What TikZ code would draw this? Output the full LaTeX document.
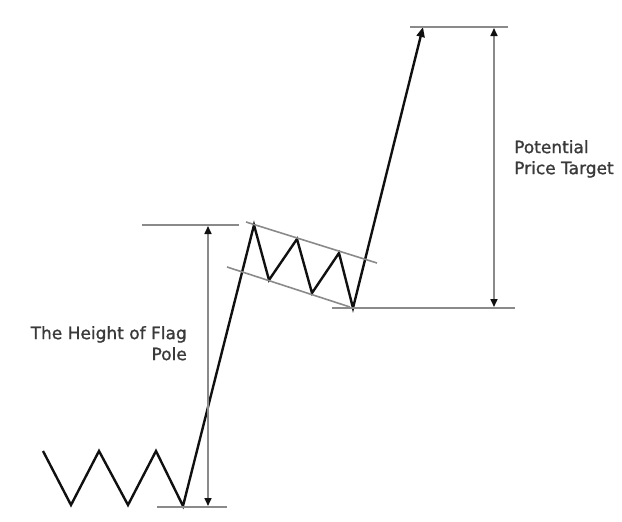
\documentclass[tikz,border=0pt]{standalone}
\usepackage{fontspec}
\setmainfont{DejaVu Sans}
\newfontfamily\labelfont[FakeBold=1.2]{DejaVu Sans}
\usetikzlibrary{arrows.meta}

\definecolor{ink}{HTML}{101010}
\definecolor{guide}{HTML}{8a8a8a}
\definecolor{label}{HTML}{3a3a3a}

\begin{document}
\begin{tikzpicture}[x=1pt, y=-1pt,
    price/.style={ink, line width=2.4pt, line join=miter},
    level/.style={guide, line width=1.8pt},
    measure/.style={guide, line width=1.6pt,
      {Triangle[length=8pt, width=7pt, color=ink]}-{Triangle[length=8pt, width=7pt, color=ink]}},
    note/.style={font=\labelfont\fontsize{17}{21}\selectfont, text=label, inner sep=0pt}]
    \useasboundingbox (0,0) rectangle (622,522);

    % price path
    \coordinate (z1) at (43,451);
    \coordinate (z2) at (71,505);
    \coordinate (z3) at (99,451);
    \coordinate (z4) at (128,505);
    \coordinate (z5) at (156,451);
    \coordinate (poleBase) at (183,506);
    \coordinate (poleTop) at (254,225);
    \coordinate (f1) at (269,280);
    \coordinate (f2) at (297,239);
    \coordinate (f3) at (312,293);
    \coordinate (f4) at (339,253);
    \coordinate (flagLow) at (353,308);
    \coordinate (target) at (423,27);
    \draw[price, -{Triangle[length=10pt, width=8pt]}]
      (z1) -- (z2) -- (z3) -- (z4) -- (z5) -- (poleBase) -- (poleTop)
      -- (f1) -- (f2) -- (f3) -- (f4) -- (flagLow) -- (target);

    % flag channel
    \coordinate (chA) at (246,222);
    \coordinate (chB) at (377,263);
    \coordinate (chC) at (227,267);
    \coordinate (chD) at (350,307);
    \draw[level, line width=1.6pt] (chA) -- (chB);
    \draw[level, line width=1.6pt] (chC) -- (chD);

    % levels
    \coordinate (topL) at (142,225);
    \coordinate (topR) at (239,225);
    \coordinate (baseL) at (157,507);
    \coordinate (baseR) at (227,507);
    \coordinate (lowL) at (332,308);
    \coordinate (lowR) at (515,308);
    \coordinate (tgtL) at (410,27);
    \coordinate (tgtR) at (508,27);
    \draw[level] (topL) -- (topR);
    \draw[level] (baseL) -- (baseR);
    \draw[level] (lowL) -- (lowR);
    \draw[level] (tgtL) -- (tgtR);

    % measures
    \coordinate (m1a) at (208,226);
    \coordinate (m1b) at (208,506);
    \coordinate (m2a) at (494,28);
    \coordinate (m2b) at (494,307);
    \draw[measure] (m1a) -- (m1b);
    \draw[measure] (m2a) -- (m2b);

    % labels
    \node[note, align=right, anchor=north east] (poleText) at (187,326)
      {The Height of Flag\\Pole};
    \node[note, align=left, anchor=north west] (targetText) at (514,140)
      {Potential\\Price Target};
\end{tikzpicture}
\end{document}
